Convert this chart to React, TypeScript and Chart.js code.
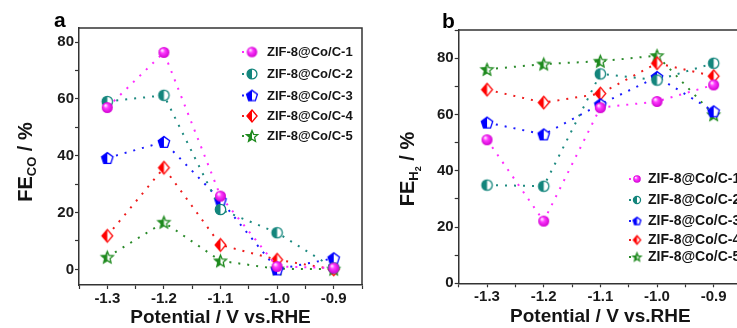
import React, { useEffect, useRef } from 'react';
import { Chart, registerables } from 'chart.js';

Chart.register(...registerables);

// ---------------- data ----------------
const potentials = [-1.3, -1.2, -1.1, -1.0, -0.9];
const seriesNames = ['ZIF-8@Co/C-1', 'ZIF-8@Co/C-2', 'ZIF-8@Co/C-3', 'ZIF-8@Co/C-4', 'ZIF-8@Co/C-5'];

const feCO_1 = [57.0, 76.4, 25.8, 1.0, 0.5];
const feCO_2 = [59.1, 61.3, 21.1, 12.9, 0.5];
const feCO_3 = [39.2, 44.9, 24.4, 0.0, 3.9];
const feCO_4 = [11.8, 35.8, 8.6, 3.4, 0.0];
const feCO_5 = [4.3, 16.6, 3.0, 0.2, 0.1];

const feH2_1 = [51.0, 22.1, 62.4, 64.6, 70.5];
const feH2_2 = [34.9, 34.5, 74.4, 72.2, 78.2];
const feH2_3 = [57.1, 52.9, 63.6, 73.3, 61.1];
const feH2_4 = [68.8, 64.2, 67.4, 78.2, 73.6];
const feH2_5 = [76.0, 77.9, 78.9, 80.9, 59.9];

const xTitle = 'Potential / V vs.RHE';

// ---------------- styles ----------------
const FONT = "'Liberation Sans', Arial, Helvetica, sans-serif";
const AXIS = '#333333';

type Shape = 'sphere' | 'circle' | 'pentagon' | 'diamond' | 'star';
const markerStyles: { shape: Shape; color: string; line: string; r: number }[] = [
  { shape: 'sphere', color: '#ff00ff', line: '#ff2cff', r: 5.5 },
  { shape: 'circle', color: '#13857c', line: '#1d8a80', r: 5.2 },
  { shape: 'pentagon', color: '#0000ff', line: '#1a1aff', r: 6 },
  { shape: 'diamond', color: '#ff0000', line: '#ee1c1c', r: 6.3 },
  { shape: 'star', color: '#1e8a1e', line: '#2a8a2a', r: 6.3 },
];

function shapePath(ctx: CanvasRenderingContext2D, shape: Shape, c: number, r: number) {
  ctx.beginPath();
  if (shape === 'circle' || shape === 'sphere') {
    ctx.arc(c, c, r, 0, Math.PI * 2);
  } else if (shape === 'pentagon') {
    for (let i = 0; i < 5; i++) {
      const a = -Math.PI / 2 + (i * 2 * Math.PI) / 5;
      const px = c + r * Math.cos(a);
      const py = c + r * Math.sin(a) + r * 0.1;
      if (i === 0) ctx.moveTo(px, py);
      else ctx.lineTo(px, py);
    }
  } else if (shape === 'diamond') {
    ctx.moveTo(c, c - r);
    ctx.lineTo(c + r * 0.85, c);
    ctx.lineTo(c, c + r);
    ctx.lineTo(c - r * 0.85, c);
  } else {
    for (let i = 0; i < 10; i++) {
      const a = -Math.PI / 2 + (i * Math.PI) / 5;
      const rr = i % 2 === 0 ? r : r * 0.45;
      const px = c + rr * Math.cos(a);
      const py = c + rr * Math.sin(a) + r * 0.08;
      if (i === 0) ctx.moveTo(px, py);
      else ctx.lineTo(px, py);
    }
  }
  ctx.closePath();
}

function makeMarker(shape: Shape, color: string, r: number): HTMLCanvasElement {
  const size = Math.ceil(2 * r + 4);
  const cv = document.createElement('canvas');
  cv.width = size;
  cv.height = size;
  const ctx = cv.getContext('2d') as CanvasRenderingContext2D;
  const c = size / 2;
  if (shape === 'sphere') {
    const g = ctx.createRadialGradient(c - r * 0.35, c - r * 0.4, r * 0.1, c, c, r);
    g.addColorStop(0, '#ffe6ff');
    g.addColorStop(0.35, '#ff3cff');
    g.addColorStop(1, '#d000d0');
    shapePath(ctx, shape, c, r);
    ctx.fillStyle = g;
    ctx.fill();
    return cv;
  }
  shapePath(ctx, shape, c, r);
  ctx.fillStyle = '#ffffff';
  ctx.fill();
  ctx.save();
  ctx.beginPath();
  ctx.rect(0, 0, c, size);
  ctx.clip();
  shapePath(ctx, shape, c, r);
  ctx.fillStyle = color;
  ctx.fill();
  ctx.restore();
  shapePath(ctx, shape, c, r);
  ctx.strokeStyle = color;
  ctx.lineWidth = 1.3;
  ctx.stroke();
  return cv;
}

interface PanelCfg {
  series: number[][];
  yMin: number;
  yMax: number;
  yAxisWidth: number;
  xAxisHeight: number;
  padding: { left: number; top: number; right: number; bottom: number };
  legendYs: number[];
  legendDotX: number;
  legendMarkerX: number;
  legendTextX: number;
  legendScale: number;
  legendFont: number;
  yTitle: { cx: number; cy: number; sub: string; subsub?: string };
  xTitleY: number;
  letter: { text: string; x: number; y: number };
}

function buildChart(canvas: HTMLCanvasElement, cfg: PanelCfg) {
  const markers = markerStyles.map((s) => makeMarker(s.shape, s.color, s.r));
  const legendMarkers = markerStyles.map((s) => makeMarker(s.shape, s.color, s.r * cfg.legendScale));

  const datasets = cfg.series.map((vals, i) => ({
    label: seriesNames[i],
    data: potentials.map((x, k) => ({ x, y: vals[k] })),
    borderColor: markerStyles[i].line,
    backgroundColor: markerStyles[i].color,
    borderWidth: 2,
    borderDash: [2, 7],
    borderCapStyle: 'butt' as const,
    pointStyle: markers[i],
    pointRadius: 6,
    showLine: true,
    tension: 0,
    clip: false as const,
  }));

  const decor = {
    id: 'decor',
    afterDraw(chart: any) {
      const ctx: CanvasRenderingContext2D = chart.ctx;
      const a = chart.chartArea;
      ctx.save();
      // top & right frame
      ctx.strokeStyle = AXIS;
      ctx.lineWidth = 1.5;
      ctx.beginPath();
      ctx.moveTo(a.left, a.top);
      ctx.lineTo(a.right, a.top);
      ctx.lineTo(a.right, a.bottom);
      ctx.stroke();

      // legend
      ctx.font = `bold ${cfg.legendFont}px ${FONT}`;
      ctx.textBaseline = 'middle';
      ctx.textAlign = 'left';
      cfg.legendYs.forEach((y, i) => {
        ctx.fillStyle = markerStyles[i].line;
        ctx.fillRect(cfg.legendDotX - 1, y - 1, 2, 2);
        const m = legendMarkers[i];
        ctx.drawImage(m, cfg.legendMarkerX - m.width / 2, y - m.height / 2);
        ctx.fillStyle = '#141414';
        ctx.fillText(seriesNames[i], cfg.legendTextX, y + 0.5);
      });

      // x title
      ctx.font = `bold 19px ${FONT}`;
      ctx.textAlign = 'center';
      ctx.textBaseline = 'middle';
      ctx.fillStyle = '#141414';
      ctx.fillText(xTitle, (a.left + a.right) / 2, cfg.xTitleY);

      // y title with subscripts
      const t = cfg.yTitle;
      const parts: { s: string; f: string; dy: number }[] = [
        { s: 'FE', f: `bold 20px ${FONT}`, dy: 0 },
        { s: t.sub, f: `bold 13px ${FONT}`, dy: 4 },
      ];
      if (t.subsub) parts.push({ s: t.subsub, f: `bold 9px ${FONT}`, dy: 7 });
      parts.push({ s: ' / %', f: `bold 20px ${FONT}`, dy: 0 });
      let total = 0;
      parts.forEach((p) => {
        ctx.font = p.f;
        total += ctx.measureText(p.s).width;
      });
      ctx.translate(t.cx, t.cy);
      ctx.rotate(-Math.PI / 2);
      ctx.textAlign = 'left';
      ctx.textBaseline = 'alphabetic';
      let xx = -total / 2;
      parts.forEach((p) => {
        ctx.font = p.f;
        ctx.fillText(p.s, xx, 7 + p.dy);
        xx += ctx.measureText(p.s).width;
      });
      ctx.setTransform(1, 0, 0, 1, 0, 0);

      // panel letter
      ctx.font = `bold 21px ${FONT}`;
      ctx.textAlign = 'left';
      ctx.textBaseline = 'alphabetic';
      ctx.fillStyle = '#000';
      ctx.fillText(cfg.letter.text, cfg.letter.x, cfg.letter.y);
      ctx.restore();
    },
  };

  const tickFont = { family: FONT, size: 15, weight: 'bold' as const };

  return new Chart(canvas, {
    type: 'line',
    data: { datasets },
    plugins: [decor],
    options: {
      animation: false,
      responsive: false,
      events: [],
      layout: { padding: cfg.padding },
      plugins: { legend: { display: false }, tooltip: { enabled: false }, title: { display: false } },
      scales: {
        x: {
          type: 'linear',
          min: -1.35,
          max: -0.85,
          afterFit: (s: any) => {
            s.height = cfg.xAxisHeight;
          },
          ticks: {
            stepSize: 0.05,
            autoSkip: false,
            maxRotation: 0,
            includeBounds: false,
            padding: 1,
            color: '#1a1a1a',
            font: tickFont,
            callback: (v: any) => {
              const n = Number(v);
              return Math.abs(n * 10 - Math.round(n * 10)) < 1e-6 ? n.toFixed(1) : '';
            },
          },
          grid: { drawOnChartArea: false, drawTicks: true, tickLength: 4, tickColor: AXIS, tickWidth: 1.2 },
          border: { display: true, color: AXIS, width: 1.5 },
        },
        y: {
          type: 'linear',
          min: cfg.yMin,
          max: cfg.yMax,
          afterFit: (s: any) => {
            s.width = cfg.yAxisWidth;
          },
          ticks: {
            stepSize: 10,
            autoSkip: false,
            includeBounds: false,
            padding: 1,
            color: '#1a1a1a',
            font: tickFont,
            callback: (v: any) => {
              const n = Number(v);
              return Math.abs(n % 20) < 1e-6 && n < 85 ? String(Math.round(n)) : '';
            },
          },
          grid: { drawOnChartArea: false, drawTicks: true, tickLength: 4, tickColor: AXIS, tickWidth: 1.2 },
          border: { display: true, color: AXIS, width: 1.5 },
        },
      },
    } as any,
  });
}

const panelA: PanelCfg = {
  series: [feCO_1, feCO_2, feCO_3, feCO_4, feCO_5],
  yMin: -5.5,
  yMax: 85,
  yAxisWidth: 79,
  xAxisHeight: 43,
  padding: { left: 0, top: 28, right: 4, bottom: 0 },
  legendYs: [52, 74, 95.5, 116, 136],
  legendDotX: 243,
  legendMarkerX: 252,
  legendTextX: 267,
  legendScale: 0.95,
  legendFont: 13,
  yTitle: { cx: 25, cy: 162, sub: 'CO' },
  xTitleY: 318,
  letter: { text: 'a', x: 54, y: 27 },
};

const panelB: PanelCfg = {
  series: [feH2_1, feH2_2, feH2_3, feH2_4, feH2_5],
  yMin: 0,
  yMax: 90,
  yAxisWidth: 88.7,
  xAxisHeight: 44.7,
  padding: { left: 0, top: 30, right: 6.3, bottom: 0 },
  legendYs: [179, 200, 221, 240, 257],
  legendDotX: 630,
  legendMarkerX: 637,
  legendTextX: 648,
  legendScale: 0.68,
  legendFont: 14,
  yTitle: { cx: 37, cy: 169, sub: 'H', subsub: '2' },
  xTitleY: 317,
  letter: { text: 'b', x: 72, y: 28 },
};
// panel B legend positions are in page coordinates; convert to its canvas (offset 370)
panelB.legendDotX -= 370;
panelB.legendMarkerX -= 370;
panelB.legendTextX -= 370;

function Panel({ cfg, left, width }: { cfg: PanelCfg; left: number; width: number }) {
  const ref = useRef<HTMLCanvasElement | null>(null);
  useEffect(() => {
    if (!ref.current) return;
    const chart = buildChart(ref.current, cfg);
    return () => chart.destroy();
  }, [cfg]);
  return (
    <canvas
      ref={ref}
      width={width}
      height={328}
      style={{ position: 'absolute', left, top: 0, width, height: 328, display: 'block' }}
    />
  );
}

export default function App() {
  return (
    <div
      style={{
        position: 'fixed',
        left: 0,
        top: 0,
        width: 737,
        height: 328,
        overflow: 'hidden',
        background: '#ffffff',
      }}
    >
      <Panel cfg={panelA} left={0} width={370} />
      <Panel cfg={panelB} left={370} width={380} />
    </div>
  );
}
